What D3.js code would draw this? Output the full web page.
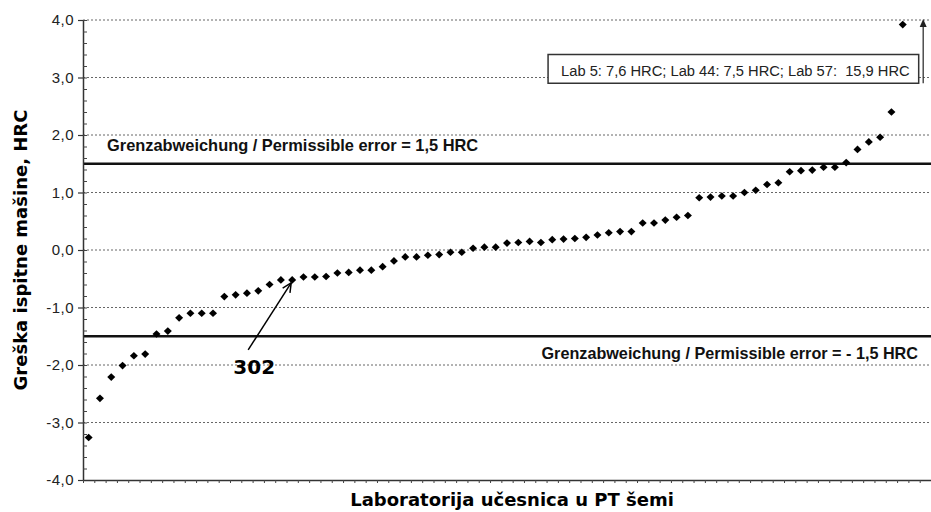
<!DOCTYPE html>
<html>
<head>
<meta charset="utf-8">
<script src="https://cdnjs.cloudflare.com/ajax/libs/d3/7.8.5/d3.min.js"></script>
<style>
  html, body { margin: 0; padding: 0; background: #ffffff; }
  svg { display: block; }
</style>
</head>
<body>
<svg id="chart" width="931" height="512"></svg>
<script>
// ---- Data ----
const labs = d3.range(1, 74); // 73 laboratories plotted in ascending order
const errors = [
  -3.26, -2.58, -2.21, -2.01, -1.84, -1.81, -1.46, -1.41, -1.18, -1.10,
  -1.10, -1.10, -0.81, -0.78, -0.75, -0.71, -0.60, -0.52, -0.52, -0.47,
  -0.47, -0.46, -0.40, -0.39, -0.35, -0.35, -0.29, -0.19, -0.12, -0.12,
  -0.09, -0.08, -0.04, -0.04, 0.03, 0.05, 0.05, 0.12, 0.13, 0.15,
  0.13, 0.18, 0.19, 0.20, 0.22, 0.26, 0.30, 0.32, 0.32, 0.47,
  0.47, 0.52, 0.57, 0.60, 0.91, 0.92, 0.94, 0.94, 1.00, 1.04,
  1.14, 1.17, 1.36, 1.38, 1.39, 1.44, 1.44, 1.52, 1.75, 1.88,
  1.96, 2.40, 3.92
];
const yTicks = [-4, -3, -2, -1, 0, 1, 2, 3, 4];
const limits = [1.5, -1.5];
const limitLabels = [
  "Grenzabweichung / Permissible error = 1,5 HRC",
  "Grenzabweichung / Permissible error = - 1,5 HRC"
];
const outlierText = "Lab 5: 7,6 HRC; Lab 44: 7,5 HRC; Lab 57:  15,9 HRC";
const markedLab = 19;
const markedLabel = "302";
const nSlots = 75;
const xTitle = "Laboratorija učesnica u PT šemi";
const yTitle = "Greška ispitne mašine, HRC";

// ---- Layout ----
const svg = d3.select("#chart");
const pLeft = 83, pRight = 931, pTop = 20, pBottom = 480;

const x = d3.scaleBand().domain(d3.range(1, nSlots + 1)).range([pLeft, pRight]).padding(0);
const xEdge = d3.scaleLinear().domain([0, nSlots]).range([pLeft, pRight]);
const y = d3.scaleLinear().domain([-4, 4]).range([pBottom, pTop]);
const cx = i => x(i) + x.bandwidth() / 2;
const fmt = v => v.toFixed(1).replace(".", ",");

// gridlines
svg.append("g").selectAll("line").data(yTicks.filter(v => v > -4)).join("line")
  .attr("x1", pLeft).attr("x2", pRight)
  .attr("y1", d => y(d)).attr("y2", d => y(d))
  .attr("stroke", "#666").attr("stroke-width", 1).attr("stroke-dasharray", "2,2");

// limit lines
svg.append("g").selectAll("line").data(limits).join("line")
  .attr("x1", pLeft).attr("x2", pRight)
  .attr("y1", d => y(d)).attr("y2", d => y(d))
  .attr("stroke", "#111").attr("stroke-width", 2.5);

// limit labels
svg.append("text").attr("x", 107).attr("y", y(limits[0]) - 13)
  .attr("font-family", "Liberation Sans, Arial, sans-serif").attr("font-weight", "bold")
  .attr("font-size", 16.4).attr("fill", "#111").text(limitLabels[0]);
svg.append("text").attr("x", 918).attr("y", y(limits[1]) + 23).attr("text-anchor", "end")
  .attr("font-family", "Liberation Sans, Arial, sans-serif").attr("font-weight", "bold")
  .attr("font-size", 16.2).attr("fill", "#111").text(limitLabels[1]);

// y axis major
const yAxis = svg.append("g").attr("transform", `translate(${pLeft},0)`)
  .call(d3.axisLeft(y).tickValues(yTicks).tickFormat(fmt).tickSize(5).tickPadding(4).tickSizeOuter(0));
yAxis.select(".domain").attr("stroke", "#333").attr("stroke-width", 1.5);
yAxis.selectAll(".tick line").attr("stroke", "#333").attr("stroke-width", 1.2);
yAxis.selectAll(".tick text").attr("font-family", "Liberation Sans, Arial, sans-serif")
  .attr("font-size", 15).attr("fill", "#222").attr("letter-spacing", "0.5px");

// y axis minor
const yMinor = svg.append("g").attr("transform", `translate(${pLeft},0)`)
  .call(d3.axisRight(y).tickValues(d3.range(-40, 41, 2).map(v => v / 10)).tickFormat("").tickSize(4).tickSizeOuter(0));
yMinor.select(".domain").remove();
yMinor.selectAll(".tick line").attr("stroke", "#444").attr("stroke-width", 1);

// x axis
const xAxis = svg.append("g").attr("transform", `translate(0,${pBottom})`)
  .call(d3.axisBottom(xEdge).tickValues(d3.range(0, nSlots + 1)).tickFormat("").tickSize(3).tickSizeOuter(0));
xAxis.select(".domain").attr("stroke", "#333").attr("stroke-width", 1.5);
xAxis.selectAll(".tick line").attr("stroke", "#444").attr("stroke-width", 1);

// points (diamonds)
const diamond = "M0,-3.8L4,0L0,3.8L-4,0Z";
svg.append("g").selectAll("path").data(labs).join("path")
  .attr("d", diamond)
  .attr("transform", (d, i) => `translate(${cx(d)},${y(errors[i])})`)
  .attr("fill", "#000");

// outlier box + arrow
const boxRight = x(nSlots) - 1;
const boxTop = y(3.4), boxBottom = y(2.9);
const boxG = svg.append("g");
const bRect = boxG.append("rect");
const bText = boxG.append("text").attr("x", boxRight - 9).attr("y", boxBottom - 7)
  .attr("text-anchor", "end")
  .attr("font-family", "Liberation Sans, Arial, sans-serif").attr("font-size", 14.7)
  .attr("fill", "#222").style("white-space", "pre").text(outlierText);
const bb = bText.node().getBBox();
bRect.attr("x", bb.x - 13).attr("y", boxTop).attr("width", boxRight - (bb.x - 13)).attr("height", boxBottom - boxTop)
  .attr("fill", "#fff").attr("stroke", "#333").attr("stroke-width", 1.5);

const ax = x(nSlots) + 3.5;
svg.append("line").attr("x1", ax).attr("x2", ax).attr("y1", boxBottom).attr("y2", y(4) + 5)
  .attr("stroke", "#333").attr("stroke-width", 1.3);
svg.append("path").attr("d", `M${ax},${y(4) - 1}L${ax - 3.5},${y(4) + 7}L${ax + 3.5},${y(4) + 7}Z`).attr("fill", "#222");

// marked lab annotation
const mx = cx(markedLab), my = y(errors[markedLab - 1]);
const tx = mx - 44, ty = my + 70;
svg.append("line").attr("x1", tx).attr("y1", ty).attr("x2", mx - 1).attr("y2", my + 3)
  .attr("stroke", "#000").attr("stroke-width", 1.5);
const ang = Math.atan2(my + 3 - ty, mx - 1 - tx);
const hl = 10;
[ang + Math.PI - 0.45, ang + Math.PI + 0.45].forEach(a => {
  svg.append("line").attr("x1", mx - 1).attr("y1", my + 3)
    .attr("x2", mx - 1 + hl * Math.cos(a)).attr("y2", my + 3 + hl * Math.sin(a))
    .attr("stroke", "#000").attr("stroke-width", 1.5);
});
svg.append("text").attr("x", tx + 6).attr("y", ty + 24).attr("text-anchor", "middle")
  .attr("font-family", "DejaVu Sans, Verdana, sans-serif").attr("font-weight", "bold")
  .attr("font-size", 20).attr("fill", "#000").text(markedLabel);

// titles
svg.append("text").attr("x", 512).attr("y", 506).attr("text-anchor", "middle")
  .attr("font-family", "DejaVu Sans, Verdana, sans-serif").attr("font-weight", "bold")
  .attr("font-size", 18).attr("fill", "#000").text(xTitle);
svg.append("text").attr("transform", "translate(27,250) rotate(-90)").attr("text-anchor", "middle")
  .attr("font-family", "DejaVu Sans, Verdana, sans-serif").attr("font-weight", "bold")
  .attr("font-size", 18).attr("fill", "#000").text(yTitle);
</script>
</body>
</html>
